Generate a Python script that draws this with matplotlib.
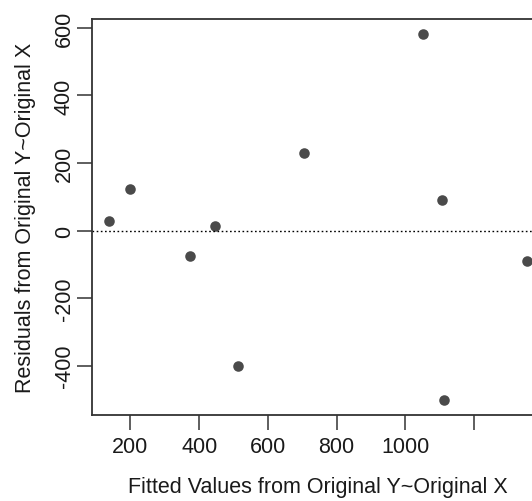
import numpy as np
import matplotlib.pyplot as plt

plt.rcParams['font.family'] = ['Liberation Sans', 'DejaVu Sans']

# residuals vs fitted values
fitted = [137, 200, 446, 372, 513, 705, 1052, 1106, 1112, 1353]
resid = [27, 123, 12, -76, -400, 230, 583, 90, -503, -90]
xticks = [200, 400, 600, 800, 1000, 1200]
xtick_labels = ['200', '400', '600', '800', '1000', '']
yticks = [-400, -200, 0, 200, 400, 600]

fig = plt.figure(figsize=(5.32, 5.02), dpi=100)
# R draws the box wider than the saved picture, so the right side is cut
ax = fig.add_axes([92 / 532, 86 / 502, 451.5 / 532, 396 / 502])

ax.plot(fitted, resid, 'o', color='#4a4a4a', markersize=7.6, markeredgewidth=0)
ax.axhline(0, color='black', linestyle=(0, (1.2, 1.8)), linewidth=1.0)

xr = max(fitted) - min(fitted)
yr = max(resid) - min(resid)
ax.set_xlim(min(fitted) - 0.04 * xr, max(fitted) + 0.04 * xr)
ax.set_ylim(min(resid) - 0.04 * yr, max(resid) + 0.04 * yr)

ax.set_xticks(xticks)
ax.set_xticklabels(xtick_labels)
ax.set_yticks(yticks)
ax.set_yticklabels([str(v) for v in yticks], rotation=90, va='center')
ax.tick_params(axis='both', direction='out', length=11, width=1.1,
               labelsize=15.5, color='#333333', labelcolor='#1a1a1a')
ax.tick_params(axis='x', pad=4)
ax.tick_params(axis='y', pad=1.5)

for s in ax.spines.values():
    s.set_linewidth(1.3)
    s.set_color('#333333')

ax.set_xlabel('Fitted Values from Original Y~Original X', fontsize=15.5,
              color='#1a1a1a', labelpad=14)
ax.set_ylabel('Residuals from Original Y~Original X', fontsize=15.5,
              color='#1a1a1a', labelpad=13)

fig.savefig('out.png', dpi=100)
